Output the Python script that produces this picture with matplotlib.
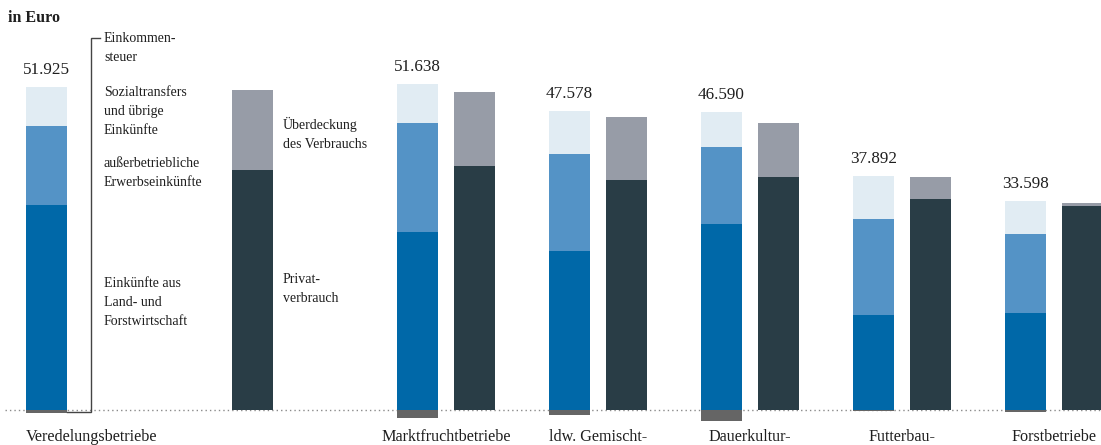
import matplotlib.pyplot as plt

# Data (Euro je Betrieb)
categories = ['Veredelungsbetriebe', 'Marktfruchtbetriebe', 'ldw. Gemischt-',
              'Dauerkultur-', 'Futterbau-', 'Forstbetriebe']
totals = [51925, 51638, 47578, 46590, 37892, 33598]
land_forst = [33300, 28900, 25740, 30150, 15420, 15820]
ausserbetrieblich = [12800, 17700, 15750, 12500, 15580, 12820]
sozialtransfers = [6330, 6330, 6980, 5680, 6980, 5360]
einkommensteuer = [-505, -1300, -890, -1740, -90, -400]
privatverbrauch = [38960, 39600, 37340, 37820, 34250, 33120]
ueberdeckung = [12965, 12038, 10238, 8770, 3642, 478]

# Colors
C_LF = '#0068a8'
C_AE = '#5493c6'
C_ST = '#e1ecf3'
C_TAX = '#656565'
C_PV = '#293d46'
C_UE = '#979ca7'
TXT = '#1e1e1e'

plt.rcParams['font.family'] = ['Liberation Serif', 'DejaVu Serif']

fig = plt.figure(figsize=(11.01, 4.45), dpi=100)
ax = fig.add_axes([0, 0, 1, 1])
px = 0.00616  # pixel per euro
ax.set_xlim(0, 1101)
ax.set_ylim(-35 / px, 410 / px)
ax.axis('off')

# layout: left edges of income bars and consumption bars
bar_w = 41
left_inc = [26] + [397 + 152 * i for i in range(5)]
left_con = [232] + [454 + 152 * i for i in range(5)]

ax.plot([5, 1101], [0, 0], color='#8a8a8a', lw=1.0, linestyle=(0, (1, 2.2)), zorder=0)

lf_ae = [a + b for a, b in zip(land_forst, ausserbetrieblich)]
ax.bar(left_inc, land_forst, bar_w, align='edge', color=C_LF, zorder=2)
ax.bar(left_inc, ausserbetrieblich, bar_w, bottom=land_forst, align='edge', color=C_AE, zorder=2)
ax.bar(left_inc, sozialtransfers, bar_w, bottom=lf_ae, align='edge', color=C_ST, zorder=2)
ax.bar(left_inc, einkommensteuer, bar_w, align='edge', color=C_TAX, zorder=2)

ax.bar(left_con, privatverbrauch, bar_w, align='edge', color=C_PV, zorder=2)
ax.bar(left_con, ueberdeckung, bar_w, bottom=privatverbrauch, align='edge', color=C_UE, zorder=2)

# value labels
for i, t in enumerate(totals):
    top = lf_ae[i] + sozialtransfers[i]
    label = f'{t:,}'.replace(',', '.')
    ax.text(left_inc[i] + bar_w / 2, top + 9 / px, label, ha='center', va='bottom',
            fontsize=12.3, color=TXT)

# category labels
for i, cat in enumerate(categories):
    if i == 0:
        ax.text(left_inc[0], -19 / px, cat, ha='left', va='top', fontsize=11.6, color=TXT)
    else:
        center = (left_inc[i] + left_con[i] + bar_w) / 2
        ax.text(center, -19 / px, cat, ha='center', va='top', fontsize=11.6, color=TXT)

# bracket for the legend
bx = 91
ax.plot([67, bx, bx, 100], [-2 / px, -2 / px, 372 / px, 372 / px],
        color='#444444', lw=1.0, zorder=3, solid_joinstyle='miter')

def note(x, y_px, s):
    ax.text(x, (410 - y_px) / px, s, ha='left', va='top', fontsize=10,
            color=TXT, linespacing=1.6)

note(104, 32, 'Einkommen-\nsteuer')
note(104, 86, 'Sozialtransfers\nund übrige\nEinkünfte')
note(104, 157, 'außerbetriebliche\nErwerbseinkünfte')
note(104, 277, 'Einkünfte aus\nLand- und\nForstwirtschaft')
note(283, 117, 'Überdeckung\ndes Verbrauchs')
note(283, 273, 'Privat-\nverbrauch')

ax.text(8, 410 / px - 18 / px, 'in Euro', ha='left', va='center', fontsize=11.5,
        fontweight='bold', color=TXT)

fig.savefig('out.png', dpi=100)
